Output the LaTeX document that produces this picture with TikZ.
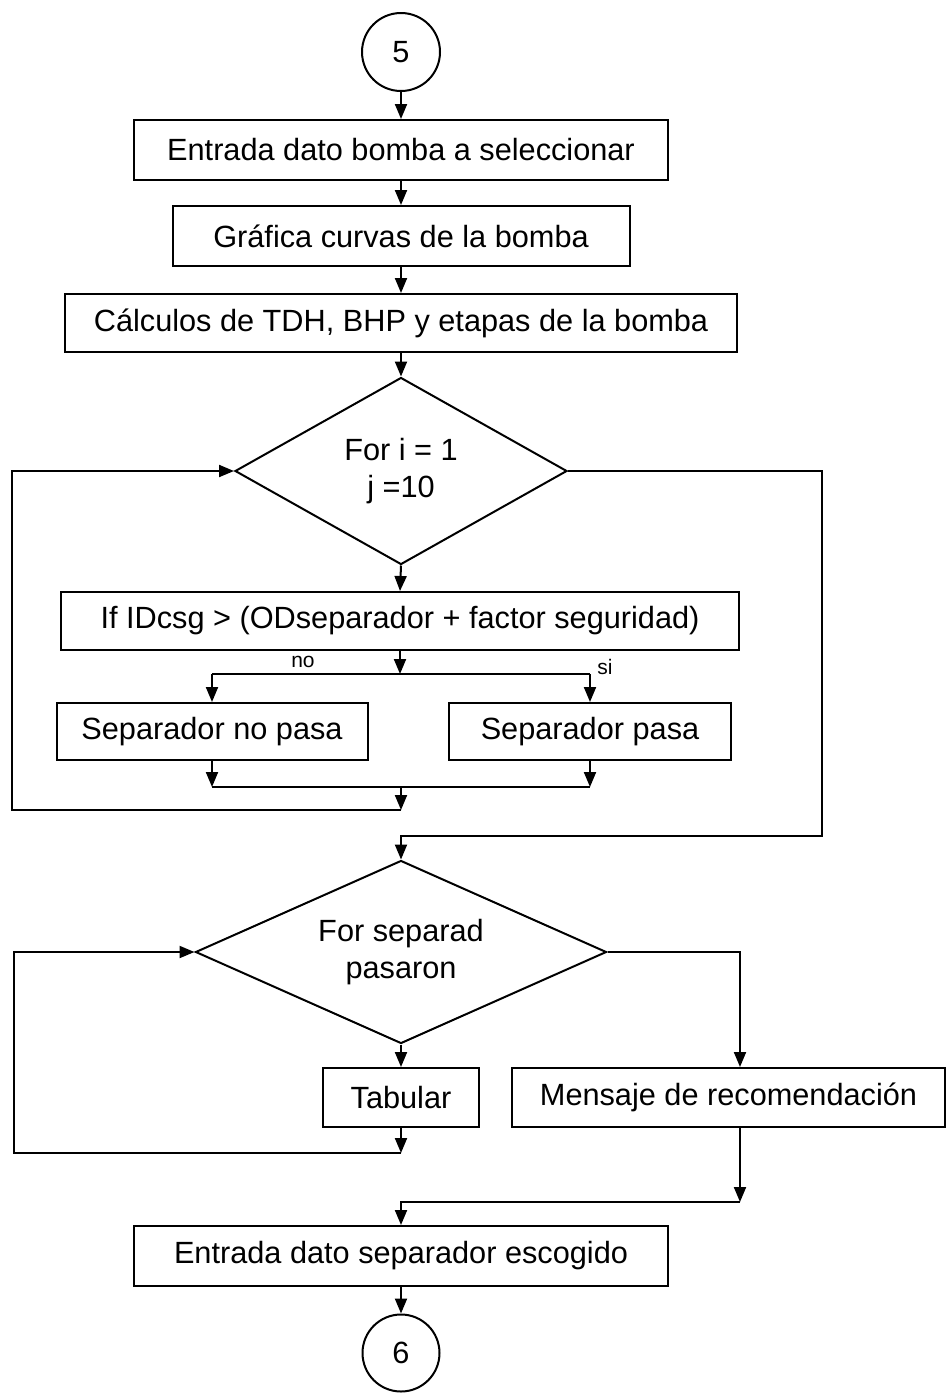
\documentclass[tikz,border=0pt]{standalone}
\usepackage{fontspec}
\setmainfont{Liberation Sans}
\usetikzlibrary{shapes.geometric,arrows.meta}

\begin{document}
\begin{tikzpicture}[x=1pt,y=-1pt,
  font=\fontsize{30.7}{37}\selectfont,
  line width=2pt,
  box/.style={draw, rectangle, inner sep=0pt},
  decision/.style={draw, diamond, inner sep=0pt, align=center},
  connector/.style={draw, circle, inner sep=0pt},
  arr/.style={-{Triangle[length=15pt,width=12pt]}},
  small/.style={font=\fontsize{21}{25}\selectfont, inner sep=0pt}]

\useasboundingbox (0,0) rectangle (947,1395);

% on-page connector and first steps
\node[connector, minimum size=78pt] (c5) at (401,52) {5};
\node[box, minimum width=534pt, minimum height=60pt] (b1) at (401,150) {Entrada dato bomba a seleccionar};
\node[box, minimum width=457pt, minimum height=60pt] (b2) at (401,236) {Gráfica curvas de la bomba};
\node[box, minimum width=672pt, minimum height=58pt] (b3) at (401,323) {Cálculos de TDH, BHP y etapas de la bomba};

% first loop
\node[decision, aspect=1.78, minimum width=332pt, minimum height=187pt] (d1) at (401,471) {For i = 1\\j =10};
\node[box, minimum width=678pt, minimum height=58pt] (b4) at (400,621) {If IDcsg > (ODseparador + factor seguridad)};
\node[box, minimum width=311pt, minimum height=57pt] (b5) at (212,731.5) {Separador no pasa};
\node[box, minimum width=282pt, minimum height=57pt] (b6) at (590,731.5) {Separador pasa};
\node[small] (lno) at (303,662) {no};
\node[small] (lsi) at (605,667) {si};

% second loop
\node[decision, aspect=2.25, minimum width=411pt, minimum height=183pt] (d2) at (401,952) {For separad\\pasaron};
\node[box, minimum width=156pt, minimum height=59pt] (tab) at (401,1097.5) {Tabular};
\node[box, minimum width=433pt, minimum height=59pt] (b7) at (728.5,1097.5) {Mensaje de recomendación};
\node[box, minimum width=534pt, minimum height=60pt] (b8) at (401,1256) {Entrada dato separador escogido};
\node[connector, minimum size=77pt] (c6) at (401,1353) {6};

% junction points
\coordinate (s1) at (400,674);
\coordinate (sL) at (212,674);
\coordinate (sR) at (590,674);
\coordinate (mL) at (212,787);
\coordinate (mR) at (590,787);
\coordinate (m) at (401,787);
\coordinate (r1) at (401,810);
\coordinate (l1) at (12,810);
\coordinate (e1) at (822,836);
\coordinate (j2) at (401,1153);
\coordinate (l2) at (14,1153);
\coordinate (k1) at (740,952);
\coordinate (k2) at (740,1202);

% main flow
\draw[arr] (c5.south) -- (b1.north);
\draw[arr] (b1.south) -- (b2.north);
\draw[arr] (b2.south) -- (b3.north);
\draw[arr] (b3.south) -- (d1.north);
\draw[arr] (d1.south) -- (b4.north);

% condition split
\draw[arr] (b4.south -| s1) -- (s1);
\draw (sL) -- (sR);
\draw[arr] (sL) -- (b5.north);
\draw[arr] (sR) -- (b6.north);

% merge and loop back
\draw[arr] (b5.south) -- (mL);
\draw[arr] (b6.south) -- (mR);
\draw (mL) -- (mR);
\draw[arr] (m) -- (r1);
\draw[arr] (r1) -- (l1) |- (d1.west);

% loop exit
\draw[arr] (d1.east) -| (e1) -| (d2.north);

% second loop
\draw[arr] (d2.south) -- (tab.north);
\draw[arr] (tab.south) -- (j2);
\draw[arr] (j2) -- (l2) |- (d2.west);
\draw[arr] (d2.east) -- (k1) -- (k1 |- b7.north);
\draw[arr] (k1 |- b7.south) -- (k2);
\draw[arr] (k2) -| (b8.north);
\draw[arr] (b8.south) -- (c6.north);
\end{tikzpicture}
\end{document}
